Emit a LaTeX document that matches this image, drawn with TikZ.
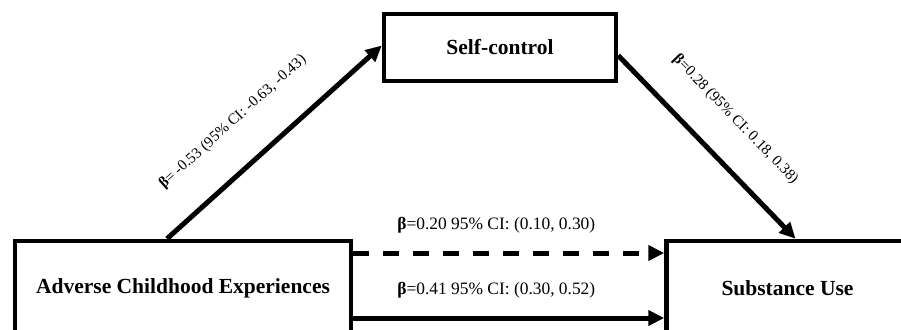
\documentclass[tikz,border=0pt]{standalone}
\usepackage{fontspec}
\setmainfont{Liberation Serif}
\usepackage{tikz}
\usetikzlibrary{arrows.meta}
\usetikzlibrary{positioning}
\tikzset{
    var/.style={
           rectangle,
           draw=black, line width=4.5pt,
           font=\bfseries\fontsize{21.5}{26}\selectfont,
           text centered,
           },
    coef/.style={
           font=\fontsize{17.4}{20}\selectfont,
           },
    coefs/.style={
           sloped,
           font=\fontsize{15.2}{18}\selectfont,
           },
}

\begin{document}
\begin{tikzpicture}[x=1pt,y=-1pt,>={Triangle[length=16pt,width=15pt]},line width=5pt]
	\useasboundingbox (0,0) rectangle (901,329);

	\node[var,minimum width=336pt,minimum height=94pt] (ace) at (183,288) {Adverse Childhood Experiences};
	\node[var,minimum width=242pt,minimum height=94pt] (sub) [right=311pt of ace] {Substance Use};
	\node[var,minimum width=232pt,minimum height=67pt] (self) at (500,47.5) {Self-control};

	\path[->] ([xshift=-16pt]ace.north) edge node [coefs,pos=0.44,above=30pt] {\textbf{β}= -0.53 (95\% CI: -0.63, -0.43)} ([yshift=2pt]self.west);
	\path[->] ([yshift=-8pt]self.east) edge node [coefs,pos=0.5,above=27pt] {\textbf{β}=0.28 (95\% CI: 0.18, 0.38)} ([xshift=8pt]sub.north);

	\path[->] ([yshift=35pt]ace.east) edge [dash pattern=on 16pt off 14pt] node [coef,pos=0.46,above=14pt] {\textbf{β}=0.20 95\% CI: (0.10, 0.30)} ([yshift=35pt]sub.west);
	\path[->] ([yshift=-30pt]ace.east) edge node [coef,pos=0.46,above=14pt] {\textbf{β}=0.41 95\% CI: (0.30, 0.52)} ([yshift=-30pt]sub.west);

\end{tikzpicture}
\end{document}
